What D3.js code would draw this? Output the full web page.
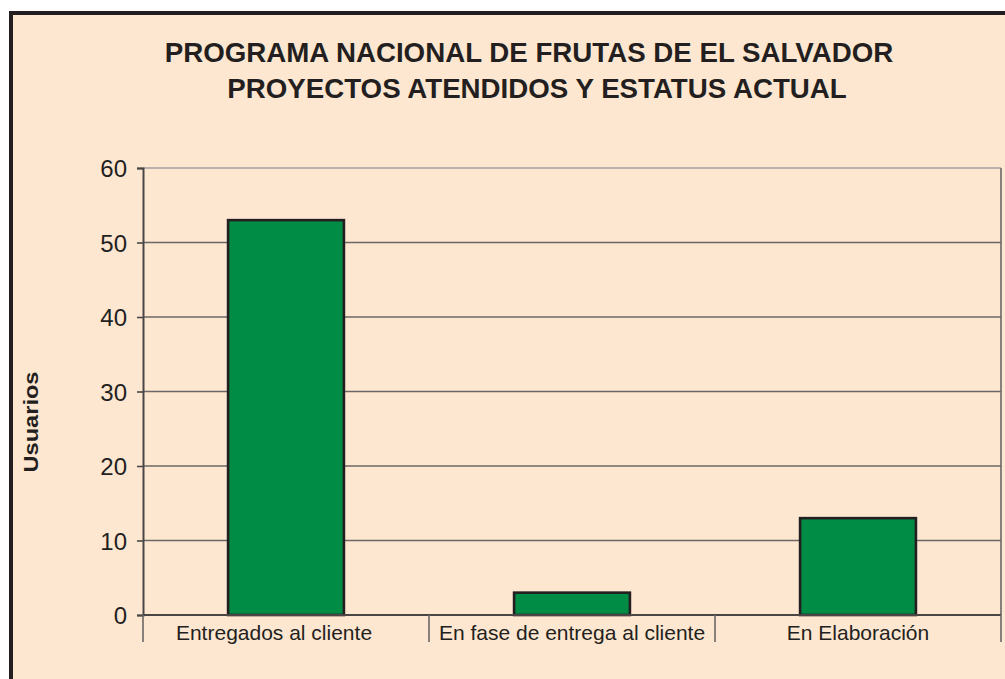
<!DOCTYPE html>
<html>
<head>
<meta charset="utf-8">
<script src="https://cdn.jsdelivr.net/npm/d3@7"></script>
<style>
  body { margin: 0; background: #ffffff; }
  svg { display: block; }
  text { font-family: "Liberation Sans", Arial, sans-serif; fill: #231f20; }
</style>
</head>
<body>
<div class="chart"></div>
<script>
// data
var categories = ["Entregados al cliente", "En fase de entrega al cliente", "En Elaboración"];
var usuarios = [53, 3, 13];
var yTicks = [0, 10, 20, 30, 40, 50, 60];
var titleLines = ["PROGRAMA NACIONAL DE FRUTAS DE EL SALVADOR", "PROYECTOS ATENDIDOS Y ESTATUS ACTUAL"];

var W = 1005, H = 679;
var bg = "#fee7d1", green = "#008c44", ink = "#231f20";

var svg = d3.select(".chart").append("svg")
    .attr("width", W)
    .attr("height", H);

// panel background with thick border on left/top (right/bottom run off the image)
svg.append("rect")
    .attr("x", 11).attr("y", 13)
    .attr("width", W + 20).attr("height", H + 20)
    .style("fill", bg)
    .style("stroke", ink)
    .style("stroke-width", 4);

// title
svg.append("text")
    .attr("x", 529).attr("y", 62)
    .attr("text-anchor", "middle")
    .style("font-size", "27.7px").style("font-weight", "bold")
    .text(titleLines[0]);
svg.append("text")
    .attr("x", 537).attr("y", 98)
    .attr("text-anchor", "middle")
    .style("font-size", "27.7px").style("font-weight", "bold")
    .text(titleLines[1]);

const plot = { left: 143, right: 1001, top: 168, bottom: 615 };

var x = d3.scaleBand()
    .domain(categories)
    .range([plot.left, plot.right])
    .padding(0);

var y = d3.scaleLinear()
    .domain([0, 60])
    .range([plot.bottom, plot.top]);

// gridlines
svg.append("g").selectAll("line")
    .data(yTicks.slice(1))
    .enter().append("line")
    .attr("x1", plot.left).attr("x2", plot.right)
    .attr("y1", d => y(d)).attr("y2", d => y(d))
    .style("stroke", d => d == 60 ? "#a3a1a0" : "#6b6766")
    .style("stroke-width", 1.6);

// right edge of plot area
svg.append("line")
    .attr("x1", plot.right).attr("x2", plot.right)
    .attr("y1", plot.top).attr("y2", plot.bottom)
    .style("stroke", "#6b6766").style("stroke-width", 1.6);

// bars
var barW = x.bandwidth() * 0.405;
svg.append("g").selectAll("rect")
    .data(usuarios)
    .enter().append("rect")
    .attr("x", (d, i) => x(categories[i]) + (x.bandwidth() - barW) / 2)
    .attr("y", d => y(d))
    .attr("width", barW)
    .attr("height", d => y(0) - y(d))
    .style("fill", green)
    .style("stroke", ink)
    .style("stroke-width", 2.6);

// y axis
var yAxis = svg.append("g")
    .attr("transform", "translate(" + plot.left + ",0)")
    .call(d3.axisLeft(y).tickValues(yTicks).tickSize(6).tickPadding(10));
yAxis.select(".domain").style("stroke", "#4a4645").style("stroke-width", 2);
yAxis.selectAll(".tick line").style("stroke", "#4a4645").style("stroke-width", 1.6);
yAxis.selectAll(".tick text")
    .style("font-size", "24px")
    .style("font-family", "'Liberation Sans', Arial, sans-serif")
    .style("fill", ink)
    .attr("dy", "0.36em");

// x axis baseline, category separators and labels
svg.append("line")
    .attr("x1", plot.left).attr("x2", plot.right)
    .attr("y1", y(0)).attr("y2", y(0))
    .style("stroke", "#4a4645").style("stroke-width", 2);

var seps = categories.map(c => x(c)).concat([plot.right]);
svg.append("g").selectAll("line")
    .data(seps)
    .enter().append("line")
    .attr("x1", d => d).attr("x2", d => d)
    .attr("y1", y(0)).attr("y2", 642)
    .style("stroke", "#6b6766").style("stroke-width", 1.6);

var xAxis = svg.append("g")
    .attr("transform", "translate(0," + y(0) + ")")
    .call(d3.axisBottom(x).tickSize(0).tickPadding(0));
xAxis.select(".domain").remove();
xAxis.selectAll(".tick text")
    .attr("y", 25).attr("dy", 0)
    .attr("dx", (d, i) => i == 0 ? -12 : 0)
    .style("font-size", "21px")
    .style("font-family", "'Liberation Sans', Arial, sans-serif")
    .style("fill", ink);

// y axis title (stretched horizontally like the original)
svg.append("text")
    .attr("transform", "translate(38,422) rotate(-90)")
    .attr("text-anchor", "middle")
    .attr("textLength", 101)
    .attr("lengthAdjust", "spacingAndGlyphs")
    .style("font-size", "20px").style("font-weight", "bold")
    .text("Usuarios");
</script>
</body>
</html>
